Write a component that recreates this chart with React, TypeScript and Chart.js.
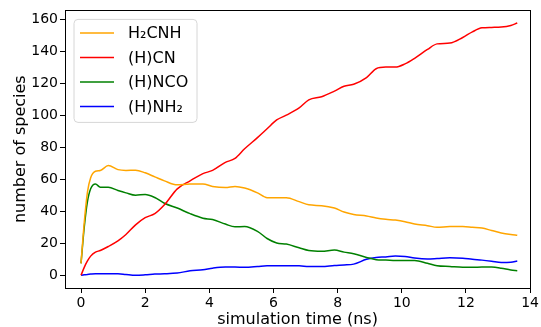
import React, { useEffect, useRef } from "react";
import { Chart, registerables } from "chart.js";

Chart.register(...registerables);

const timeNs = [0, 0.1, 0.2, 0.3, 0.45, 0.6, 0.85, 1.15, 1.4, 1.7, 2.0, 2.3, 2.6, 3.0, 3.4, 3.8, 4.1, 4.5, 4.8, 5.1, 5.5, 5.8, 6.1, 6.4, 6.8, 7.1, 7.5, 7.9, 8.2, 8.5, 8.9, 9.2, 9.5, 9.8, 10.1, 10.4, 10.8, 11.1, 11.5, 11.9, 12.2, 12.5, 12.8, 13.1, 13.4, 13.6];

const h2cnh = [7.5, 33, 52, 61, 65, 65.5, 68.5, 66, 65.5, 65.6, 64, 61.5, 59, 56.5, 57, 57, 55.5, 54.8, 55.5, 54.5, 51.5, 48.5, 48.5, 48.5, 46, 44, 43.5, 42, 39.5, 38, 37, 35.8, 35, 34.5, 33.5, 32, 31, 30, 30.5, 30.5, 30, 29.5, 28, 26.5, 25.5, 25];

const hcn = [0, 5, 9, 12, 14.5, 15.5, 18, 21.5, 25.5, 31.5, 36, 38.5, 44, 54, 59, 63.5, 65.5, 70.5, 73, 79, 86, 91.5, 97, 100, 104.5, 109.5, 111.5, 115, 118, 119.3, 123.5, 129, 130, 130, 132, 135.5, 141, 144.5, 145, 148.5, 152, 154.5, 154.8, 155, 156, 157.5];

const hnco = [7.5, 30, 46, 54, 57, 55, 55, 53, 51.5, 50, 50.5, 48.6, 45, 42, 38.5, 35.7, 34.8, 32, 30.3, 30.5, 27.5, 23, 20.2, 19.5, 17.2, 15.5, 15, 15.8, 14.5, 13.5, 11.2, 9.8, 9.6, 9.3, 9.3, 9.3, 7.5, 6, 5.5, 5, 5, 5.2, 5.2, 4.5, 3.3, 2.9];

const hnh2 = [0, 0.3, 0.6, 0.8, 1, 1, 1, 1, 0.5, 0, 0.3, 0.8, 1, 1.5, 2.8, 3.5, 4.5, 5.2, 5.2, 5, 5.5, 6, 6, 6, 6, 5.5, 5.5, 6.2, 6.5, 7, 10, 11.2, 11.5, 12, 11.8, 10.8, 10.2, 10.5, 11, 10.7, 10, 9.5, 8.8, 8, 8.2, 8.9];

const seriesLabels = ["H₂CNH", "(H)CN", "(H)NCO", "(H)NH₂"];
const seriesColors = ["#ffa500", "#ff0000", "#008000", "#0000ff"];
const xTicks = [0, 2, 4, 6, 8, 10, 12, 14];
const yTicks = [0, 20, 40, 60, 80, 100, 120, 140, 160];

const FONT = "'DejaVu Sans', sans-serif";

const frameAndLegend = {
  id: "frameAndLegend",
  afterDraw(chart: any) {
    const { ctx, chartArea } = chart;
    ctx.save();
    ctx.strokeStyle = "#000";
    ctx.lineWidth = 1;
    ctx.strokeRect(
      Math.round(chartArea.left) + 0.5,
      Math.round(chartArea.top) + 0.5,
      Math.round(chartArea.right - chartArea.left),
      Math.round(chartArea.bottom - chartArea.top)
    );
    // legend
    const bx = chartArea.left + 9;
    const by = chartArea.top + 9;
    const bw = 123;
    const bh = 103;
    const r = 4;
    ctx.beginPath();
    ctx.moveTo(bx + r, by);
    ctx.lineTo(bx + bw - r, by);
    ctx.quadraticCurveTo(bx + bw, by, bx + bw, by + r);
    ctx.lineTo(bx + bw, by + bh - r);
    ctx.quadraticCurveTo(bx + bw, by + bh, bx + bw - r, by + bh);
    ctx.lineTo(bx + r, by + bh);
    ctx.quadraticCurveTo(bx, by + bh, bx, by + bh - r);
    ctx.lineTo(bx, by + r);
    ctx.quadraticCurveTo(bx, by, bx + r, by);
    ctx.closePath();
    ctx.fillStyle = "rgba(255,255,255,0.8)";
    ctx.fill();
    ctx.strokeStyle = "#d6d6d6";
    ctx.stroke();
    const datasets = chart.data.datasets;
    ctx.font = `16px ${FONT}`;
    ctx.textBaseline = "middle";
    ctx.textAlign = "left";
    for (let i = 0; i < datasets.length; i++) {
      const yy = by + 13.5 + i * 24.5;
      ctx.strokeStyle = datasets[i].borderColor;
      ctx.lineWidth = 1.5;
      ctx.beginPath();
      ctx.moveTo(bx + 6, yy);
      ctx.lineTo(bx + 40, yy);
      ctx.stroke();
      ctx.fillStyle = "#000";
      ctx.fillText(datasets[i].label, bx + 54, yy + 1);
    }
    ctx.restore();
  },
};

export default function App() {
  const ref = useRef<HTMLCanvasElement>(null);
  useEffect(() => {
    const series = [h2cnh, hcn, hnco, hnh2];
    const chart = new Chart(ref.current!, {
      type: "line",
      data: {
        datasets: series.map((s, i) => ({
          label: seriesLabels[i],
          data: timeNs.map((t, j) => ({ x: t, y: s[j] })),
          borderColor: seriesColors[i],
          backgroundColor: seriesColors[i],
          borderWidth: 1.5,
          pointRadius: 0,
          fill: false,
          cubicInterpolationMode: "monotone" as const,
        })),
      },
      options: {
        animation: false,
        responsive: false,
        layout: { padding: { top: 10, right: 9, left: 0, bottom: 0 } },
        plugins: { legend: { display: false }, tooltip: { enabled: false } },
        scales: {
          x: {
            type: "linear",
            min: -0.5,
            max: 14,
            afterBuildTicks: (scale: any) => {
              scale.ticks = xTicks.map((v) => ({ value: v }));
            },
            afterFit: (scale: any) => {
              scale.height = 39;
            },
            grid: { drawOnChartArea: false, drawTicks: true, tickLength: 5, color: "#000" },
            border: { display: false },
            ticks: { color: "#000", font: { family: FONT, size: 14 }, padding: 2, maxRotation: 0 },
            title: { display: true, text: "simulation time (ns)", color: "#000", font: { family: FONT, size: 16 }, padding: { top: 0, bottom: -2.4 } },
          },
          y: {
            type: "linear",
            min: -7.9,
            max: 165.4,
            afterBuildTicks: (scale: any) => {
              scale.ticks = yTicks.map((v) => ({ value: v }));
            },
            afterFit: (scale: any) => {
              scale.width = 65;
            },
            grid: { drawOnChartArea: false, drawTicks: true, tickLength: 5, color: "#000" },
            border: { display: false },
            ticks: { color: "#000", font: { family: FONT, size: 14 }, padding: 2 },
            title: { display: true, text: "number of species", color: "#000", font: { family: FONT, size: 16 }, padding: { top: 11, bottom: 0 } },
          },
        },
      },
      plugins: [frameAndLegend],
    });
    return () => chart.destroy();
  }, []);
  return (
    <div style={{ position: "absolute", left: 0, top: 0, width: 541, height: 327, background: "#fff" }}>
      <canvas ref={ref} width={541} height={327} />
    </div>
  );
}
